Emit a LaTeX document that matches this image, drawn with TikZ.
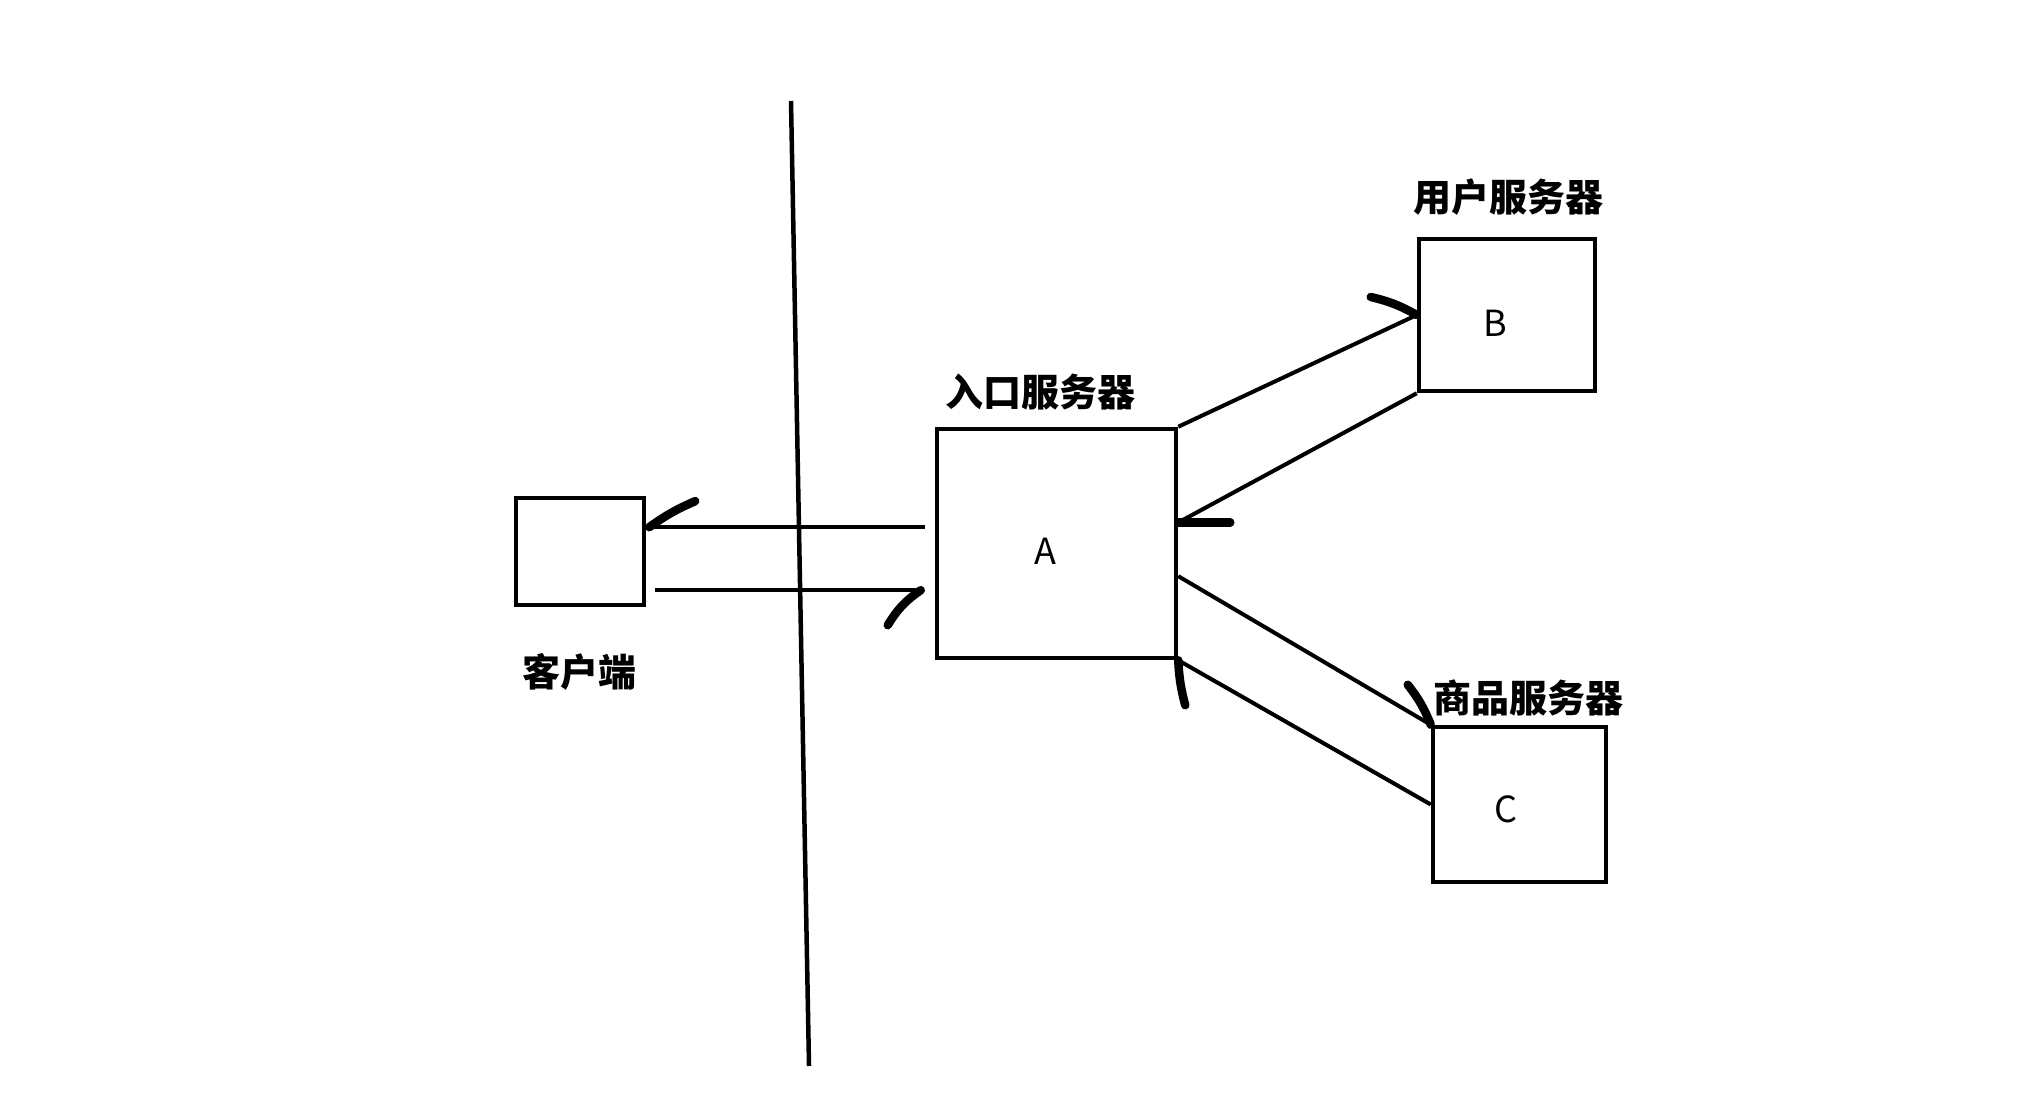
\documentclass[tikz,border=0pt]{standalone}
\usepackage{fontspec}
\newfontfamily\cjk{Noto Sans CJK SC}
\usetikzlibrary{calc}

\tikzset{
  box/.style={draw, line width=4.5pt, inner sep=0pt},
  letter/.style={font=\cjk\fontsize{36}{40}\selectfont},
  tag/.style={font=\cjk\bfseries\fontsize{38}{42}\selectfont},
  link/.style={line width=4pt},
  hook/.style={line width=8.5pt, line cap=round},
}

\begin{document}
\begin{tikzpicture}[x=1pt, y=1pt]
  \useasboundingbox (0,0) rectangle (2033,1098);
  % the wall between client and servers
  \coordinate (walltop) at (791,997);
  \coordinate (wallbot) at (809,32);
  \draw[link, line width=4.5pt] (walltop) -- (wallbot);
  % boxes
  \node[box, minimum width=128pt, minimum height=107pt] (client) at (580,546.5) {};
  \node[box, minimum width=239pt, minimum height=229pt] (entry) at (1056.5,554.5) {};
  \node[box, minimum width=176pt, minimum height=152pt] (user) at (1507,783) {};
  \node[box, minimum width=173pt, minimum height=155pt] (goods) at (1519.5,293.5) {};
  \node[letter] (entryname) at ([shift={(-11,-8)}]entry.center) {A};
  \node[letter] (username) at ([shift={(-12,-8)}]user.center) {B};
  \node[letter] (goodsname) at ([shift={(-14,-5)}]goods.center) {C};
  % labels
  \node[tag] (entrytag) at (1040,706) {入口服务器};
  \node[tag] (usertag) at (1508,901) {用户服务器};
  \node[tag] (goodstag) at (1528,400) {商品服务器};
  \node[tag] (clienttag) at (579,426) {客户端};
  % client <-> entry
  \coordinate (aw1) at ($(entry.north west)!0.43!(entry.south west)$);
  \coordinate (aw2) at ($(entry.north west)!0.70!(entry.south west)$);
  \coordinate (cl1) at ($(client.east |- aw1)+(3,0)$);
  \coordinate (ae0) at ($(aw2)+(-14,0)$);
  \draw[link, shorten <=10pt] (aw1) -- (cl1);
  \draw[hook] (cl1) to[bend left=6] ++(46,26);
  \draw[link, shorten <=9pt] (client.east |- aw2) -- (ae0);
  \draw[hook] (ae0) to[bend right=12] ++(-33,-35);
  % entry <-> user
  \coordinate (ae1) at ($(entry.north east)!0.41!(entry.south east)$);
  \draw[link] (entry.north east) -- (user.west);
  \draw[hook] (user.west) to[bend right=8] ++(-46,18);
  \draw[link] (user.south west) -- (ae1);
  \draw[hook] (ae1) -- ++(52,0);
  % entry <-> goods
  \coordinate (ae2) at ($(entry.north east)!0.64!(entry.south east)$);
  \draw[link] (ae2) -- (goods.north west);
  \draw[hook] (goods.north west) to[bend right=8] ++(-23,40);
  \draw[link] (goods.west) -- (entry.south east);
  \draw[hook] (entry.south east) to[bend right=6] ++(7,-45);
\end{tikzpicture}
\end{document}
